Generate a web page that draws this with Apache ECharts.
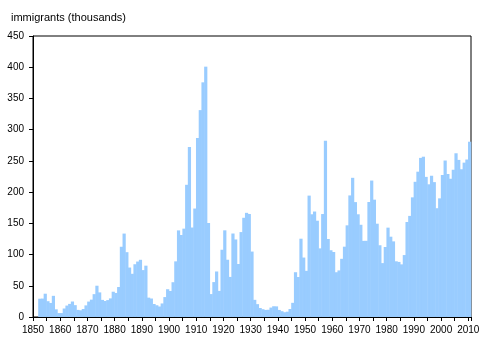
<!DOCTYPE html>
<html>
<head>
<meta charset="utf-8">
<script src="https://cdn.jsdelivr.net/npm/echarts@6/dist/echarts.min.js"></script>
<style>
  html, body { margin: 0; padding: 0; background: #fff; }
  #chart { width: 496px; height: 351px; }
</style>
</head>
<body>
<div id="chart"></div>
<script>
// immigrants to Canada per year, thousands, 1852-2010
const firstYear = 1852;
const immigrants = [
  29.3, 29.5, 37.3, 25.3, 22.5, 33.9, 12.3, 6.3, 6.3, 13.6,
  18.3, 21.0, 24.8, 19.0, 11.4, 10.7, 12.8, 18.6, 24.7, 27.8,
  36.6, 50.1, 39.4, 27.4, 25.6, 27.1, 29.8, 40.5, 38.5, 48.0,
  112.5, 133.6, 103.8, 79.2, 69.2, 84.5, 88.8, 91.6, 75.1, 82.2,
  31.0, 29.6, 20.8, 18.8, 16.8, 21.7, 31.9, 44.5, 41.7, 55.7,
  89.1, 138.7, 131.3, 141.5, 211.7, 272.4, 143.3, 173.7, 286.8, 331.3,
  375.8, 400.9, 150.5, 36.7, 55.9, 72.9, 41.8, 107.7, 138.8, 91.7,
  64.2, 133.7, 124.2, 84.9, 136.0, 158.9, 166.8, 165.0, 104.8, 27.5,
  20.6, 14.4, 12.5, 11.3, 11.6, 15.1, 17.2, 17.0, 11.3, 9.3,
  7.6, 8.5, 12.8, 22.7, 71.7, 64.1, 125.4, 95.2, 73.9, 194.4,
  164.5, 168.9, 154.2, 109.9, 164.9, 282.2, 124.9, 106.9, 104.1, 71.7,
  74.6, 93.2, 112.6, 146.8, 194.7, 222.9, 184.0, 164.5, 147.7, 121.9,
  122.0, 184.2, 218.5, 187.9, 149.4, 114.9, 86.3, 112.1, 143.1, 128.6,
  121.1, 89.2, 88.2, 84.3, 99.2, 152.1, 161.9, 191.6, 216.5, 232.7,
  254.8, 256.7, 224.4, 212.5, 226.1, 216.0, 174.2, 190.0, 227.5, 250.6,
  229.0, 221.3, 235.8, 262.2, 251.6, 236.8, 247.2, 252.2, 280.7
];

const font = 'Liberation Sans, Arial, sans-serif';

// each bar fills [year, year + 1)
const barData = immigrants.map((v, i) => [firstYear + i + 0.5, v]);

const chart = echarts.init(document.getElementById('chart'), null, { renderer: 'canvas' });

let option = {
  animation: false,
  title: {
    text: 'immigrants (thousands)',
    left: 6,
    top: 7,
    textStyle: { fontFamily: font, fontSize: 11, fontWeight: 'normal', color: '#000' }
  },
  grid: {
    left: 33,
    right: 25,
    top: 36,
    bottom: 34,
    show: true,
    borderColor: '#000',
    borderWidth: 1
  },
  xAxis: {
    type: 'value',
    min: 1850,
    max: 2011,
    interval: 5,
    axisLine: { lineStyle: { color: '#000' } },
    axisTick: { show: true, inside: false, length: 4, lineStyle: { color: '#000' } },
    splitLine: { show: false },
    axisLabel: {
      margin: 8,
      fontFamily: font,
      fontSize: 10,
      color: '#000',
      formatter: v => (v % 10 === 0 && v <= 2010) ? String(v) : ''
    }
  },
  yAxis: {
    type: 'value',
    min: 0,
    max: 450,
    interval: 50,
    axisLine: { show: true, lineStyle: { color: '#000' } },
    axisTick: { show: true, inside: false, length: 4, lineStyle: { color: '#000' } },
    splitLine: { show: false },
    axisLabel: { margin: 9, fontFamily: font, fontSize: 10, color: '#000' }
  },
  series: [{
    type: 'bar',
    barWidth: '118%',
    z: 1,
    itemStyle: { color: '#99ccff', borderWidth: 0 },
    data: barData
  }]
};
chart.setOption(option);
</script>
</body>
</html>
